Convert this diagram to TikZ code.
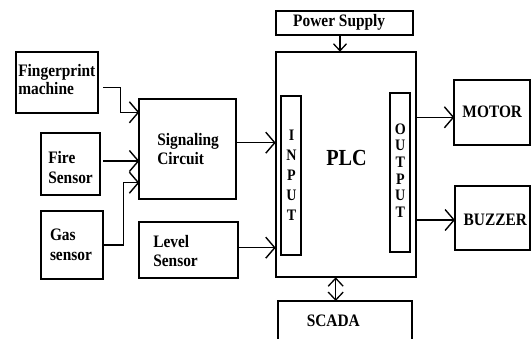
\documentclass[tikz,border=0pt]{standalone}
\usepackage{fontspec}
\setmainfont{Liberation Serif}[FakeStretch=0.88]
\usetikzlibrary{arrows.meta}
\tikzset{
  box/.style={draw=black, line width=1.8pt, inner sep=0pt, outer sep=0pt, anchor=north west},
  lbl/.style={inner sep=0pt, outer sep=0pt, align=left, anchor=base west,
              font=\fontsize{17.5}{19.3}\selectfont\bfseries},
  clbl/.style={inner sep=0pt, outer sep=0pt, anchor=base,
              font=\fontsize{17.5}{19.3}\selectfont\bfseries},
  arr/.style={line width=1.4pt, -{Straight Barb[length=9pt,width=21pt,line width=1.4pt]}},
  sarr/.style={line width=1.3pt, -{Straight Barb[length=7pt,width=13pt,line width=1.3pt]}},
  darr/.style={line width=1.3pt, {Straight Barb[length=8pt,width=15pt,line width=1.3pt]}-{Straight Barb[length=8pt,width=15pt,line width=1.3pt]}}
}
\begin{document}
\begin{tikzpicture}[x=1pt,y=-1pt]
\clip (0,0) rectangle (531,338);
\fill[white] (0,0) rectangle (531,338);

% boxes
\node[box, minimum width=82.6pt, minimum height=60.4pt] (fp) at (15.7,52.3) {};
\node[box, minimum width=59.6pt, minimum height=62.3pt] (fire) at (40.7,132.7) {};
\node[box, minimum width=62pt, minimum height=67.7pt] (gas) at (41.3,211) {};
\node[box, minimum width=96.4pt, minimum height=100pt] (sig) at (139.3,98.7) {};
\node[box, minimum width=99pt, minimum height=55.4pt] (level) at (139.3,222.3) {};
\node[box, minimum width=137.6pt, minimum height=23.7pt] (power) at (275.7,11) {};
\node[box, minimum width=140pt, minimum height=225.6pt] (plc) at (275.7,51.7) {};
\node[box, minimum width=20.3pt, minimum height=159.3pt] (inp) at (281,95.7) {};
\node[box, minimum width=20.3pt, minimum height=159pt] (outp) at (390,92.7) {};
\node[box, minimum width=75.7pt, minimum height=65pt] (motor) at (454.3,80.3) {};
\node[box, minimum width=75pt, minimum height=64.3pt] (buzzer) at (455,185.7) {};
\node[box, minimum width=134pt, minimum height=60pt] (scada) at (278.3,301) {};

% labels (base = baseline of last line)
\node[lbl, font=\fontsize{17.5}{18.3}\selectfont\bfseries] (fpt) at (18.3,94.3) {Fingerprint\\machine};
\node[lbl, font=\fontsize{17.5}{20}\selectfont\bfseries] (firet) at (48.3,183.3) {Fire\\Sensor};
\node[lbl] (gast) at (50,260) {Gas\\sensor};
\node[lbl] (sigt) at (157.3,164.5) {Signaling\\Circuit};
\node[lbl] (levelt) at (153.3,266.7) {Level\\Sensor};
\node[clbl] (powert) at (339.2,26.7) {Power Supply};
\node[clbl] (motort) at (492.3,117.3) {MOTOR};
\node[clbl] (buzzert) at (495.3,225.3) {BUZZER};
\node[clbl] (scadat) at (333.3,326.7) {SCADA};
\node[clbl, font=\fontsize{23}{25}\selectfont\bfseries] (plct) at (346.5,165) {PLC};
\node[inner sep=0pt, outer sep=0pt, anchor=base, align=center,
      font=\fontsize{16}{20}\selectfont\bfseries] (inpt) at (291.5,220) {I\\N\\P\\U\\T};
\node[inner sep=0pt, outer sep=0pt, anchor=base, align=center,
      font=\fontsize{16}{16.7}\selectfont\bfseries] (outpt) at (400.3,217.5) {O\\U\\T\\P\\U\\T};

% connectors
\coordinate (fpa) at (103.3,87.3);
\coordinate (fpb) at (120.7,112.3);
\draw[arr] (fpa) -| (fpb) -- (sig.west |- fpb);
\coordinate (firea) at (103,161);
\draw[arr] (firea) -- (sig.west |- firea);
\coordinate (gasa) at (103.3,245);
\coordinate (gasb) at (123.3,182.7);
\draw[arr] (gasa) -| (gasb) -- (sig.west |- gasb);
\coordinate (siga) at (235.7,142.7);
\draw[arr] (siga) -- (plc.west |- siga);
\coordinate (levela) at (238.3,247.7);
\draw[arr] (levela) -- (plc.west |- levela);
\coordinate (moa) at (415.7,117.3);
\draw[arr] (moa) -- (motor.west |- moa);
\coordinate (bua) at (415.7,220);
\draw[arr] (bua) -- (buzzer.west |- bua);
\coordinate (pwa) at (340,34.7);
\draw[sarr] (pwa) -- (plc.north -| pwa);
\coordinate (sca) at (335.7,277.3);
\draw[darr] (sca) -- (scada.north -| sca);
\end{tikzpicture}
\end{document}
